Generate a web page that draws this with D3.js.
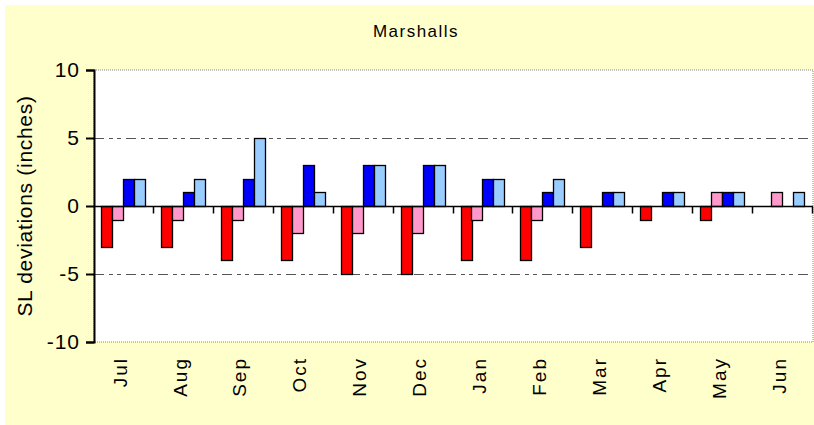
<!DOCTYPE html>
<html>
<head>
<meta charset="utf-8">
<script src="https://cdn.jsdelivr.net/npm/d3@7"></script>
<style>
  body { margin: 0; background: #fff; }
  svg { display: block; }
  text { font-family: "Liberation Sans", Arial, sans-serif; fill: #000; }
</style>
</head>
<body>
<div id="chart"></div>
<script>
var months = ["Jul","Aug","Sep","Oct","Nov","Dec","Jan","Feb","Mar","Apr","May","Jun"];
var serieRoja  = [-3,-3,-4,-4,-5,-5,-4,-4,-3,-1,-1,0];
var serieRosa  = [-1,-1,-1,-2,-2,-2,-1,-1,0,0,1,1];
var serieAzul  = [2,1,2,3,3,3,2,1,1,1,1,0];
var serieCeleste = [2,2,5,1,3,3,2,2,1,1,1,1];
var yTicks = [-10,-5,0,5,10];
var titulo = "Marshalls";
var yTitulo = "SL deviations (inches)";

var series = [
  { name: "a", values: serieRoja, color: "#ff0000" },
  { name: "b", values: serieRosa, color: "#ff99cc" },
  { name: "c", values: serieAzul, color: "#0000ff" },
  { name: "d", values: serieCeleste, color: "#99ccff" }
];

var width = 814, height = 425;
var margin = { top: 70, right: 1, bottom: 83, left: 94 };

var svg = d3.select("#chart").append("svg")
  .attr("width", width)
  .attr("height", height);

// fondo amarillo
svg.append("rect")
  .attr("x", 5).attr("y", 5)
  .attr("width", width - 5).attr("height", height - 5)
  .attr("fill", "#ffffcc");

// area del grafico
svg.append("rect")
  .attr("x", margin.left).attr("y", margin.top)
  .attr("width", width - margin.left - margin.right)
  .attr("height", height - margin.top - margin.bottom)
  .attr("fill", "#fff")
  .attr("stroke", "#888")
  .attr("stroke-dasharray", "1,1");

var x = d3.scaleBand()
  .domain(months)
  .range([margin.left, width - margin.right]);

var xs = d3.scaleBand()
  .domain(series.map(s => s.name))
  .range([7, x.bandwidth() - 9]);

var y = d3.scaleLinear()
  .domain([-10, 10])
  .range([height - margin.bottom, margin.top]);

// lineas de rejilla
svg.append("g")
  .selectAll("line")
  .data([-5, 5])
  .join("line")
    .attr("x1", margin.left)
    .attr("x2", width - margin.right)
    .attr("y1", d => Math.round(y(d)) + 0.5)
    .attr("y2", d => Math.round(y(d)) + 0.5)
    .attr("stroke", "#555")
    .attr("stroke-dasharray", "10,5,4,4,4,5");

// barras
series.forEach(function (s) {
  svg.append("g")
    .selectAll("rect")
    .data(s.values.map((v, i) => ({ m: months[i], v: v })).filter(d => d.v !== 0))
    .join("rect")
      .attr("x", d => Math.round(x(d.m) + xs(s.name)) + 0.5)
      .attr("y", d => Math.round(y(Math.max(0, d.v))) + 0.5)
      .attr("width", Math.round(xs.bandwidth()))
      .attr("height", d => Math.round(Math.abs(y(d.v) - y(0))))
      .attr("fill", s.color)
      .attr("stroke", "#000")
      .attr("stroke-width", 1.3);
});

// linea de cero con marcas
var zeroY = Math.round(y(0)) + 0.5;
svg.append("line")
  .attr("x1", margin.left).attr("x2", width - margin.right)
  .attr("y1", zeroY).attr("y2", zeroY)
  .attr("stroke", "#000").attr("stroke-width", 1.5);

svg.append("g")
  .selectAll("line")
  .data(months.slice(1).concat(["end"]))
  .join("line")
    .attr("x1", (d, i) => Math.round(margin.left + x.bandwidth() * (i + 1)) - 0.5)
    .attr("x2", (d, i) => Math.round(margin.left + x.bandwidth() * (i + 1)) - 0.5)
    .attr("y1", zeroY)
    .attr("y2", zeroY + 7)
    .attr("stroke", "#000")
    .attr("stroke-width", 1.5);

// eje y
var yAxis = svg.append("g")
  .attr("transform", `translate(${margin.left},0)`)
  .call(d3.axisLeft(y).tickValues(yTicks).tickSize(8).tickPadding(6).tickFormat(d => String(d)));
yAxis.select(".domain").attr("stroke", "#000").attr("stroke-width", 2);
yAxis.selectAll(".tick line").attr("stroke", "#000").attr("stroke-width", 2);
yAxis.selectAll("text").attr("font-size", "21px").attr("fill", "#000")
  .attr("letter-spacing", "1px")
  .style("font-family", "Liberation Sans, Arial, sans-serif");

// etiquetas de meses
svg.append("g")
  .selectAll("text")
  .data(months)
  .join("text")
    .attr("transform", d => `translate(${x(d) + x.bandwidth() / 2 - 4},357) rotate(-90)`)
    .attr("text-anchor", "end")
    .attr("dy", "0.35em")
    .attr("font-size", "19px")
    .attr("letter-spacing", "2px")
    .text(d => d);

// titulo
svg.append("text")
  .attr("x", 416).attr("y", 37)
  .attr("text-anchor", "middle")
  .attr("font-size", "17px")
  .attr("letter-spacing", "1.5px")
  .text(titulo);

// titulo del eje y
svg.append("text")
  .attr("transform", "translate(32,206) rotate(-90)")
  .attr("text-anchor", "middle")
  .attr("font-size", "21px")
  .attr("letter-spacing", "0.7px")
  .text(yTitulo);
</script>
</body>
</html>
